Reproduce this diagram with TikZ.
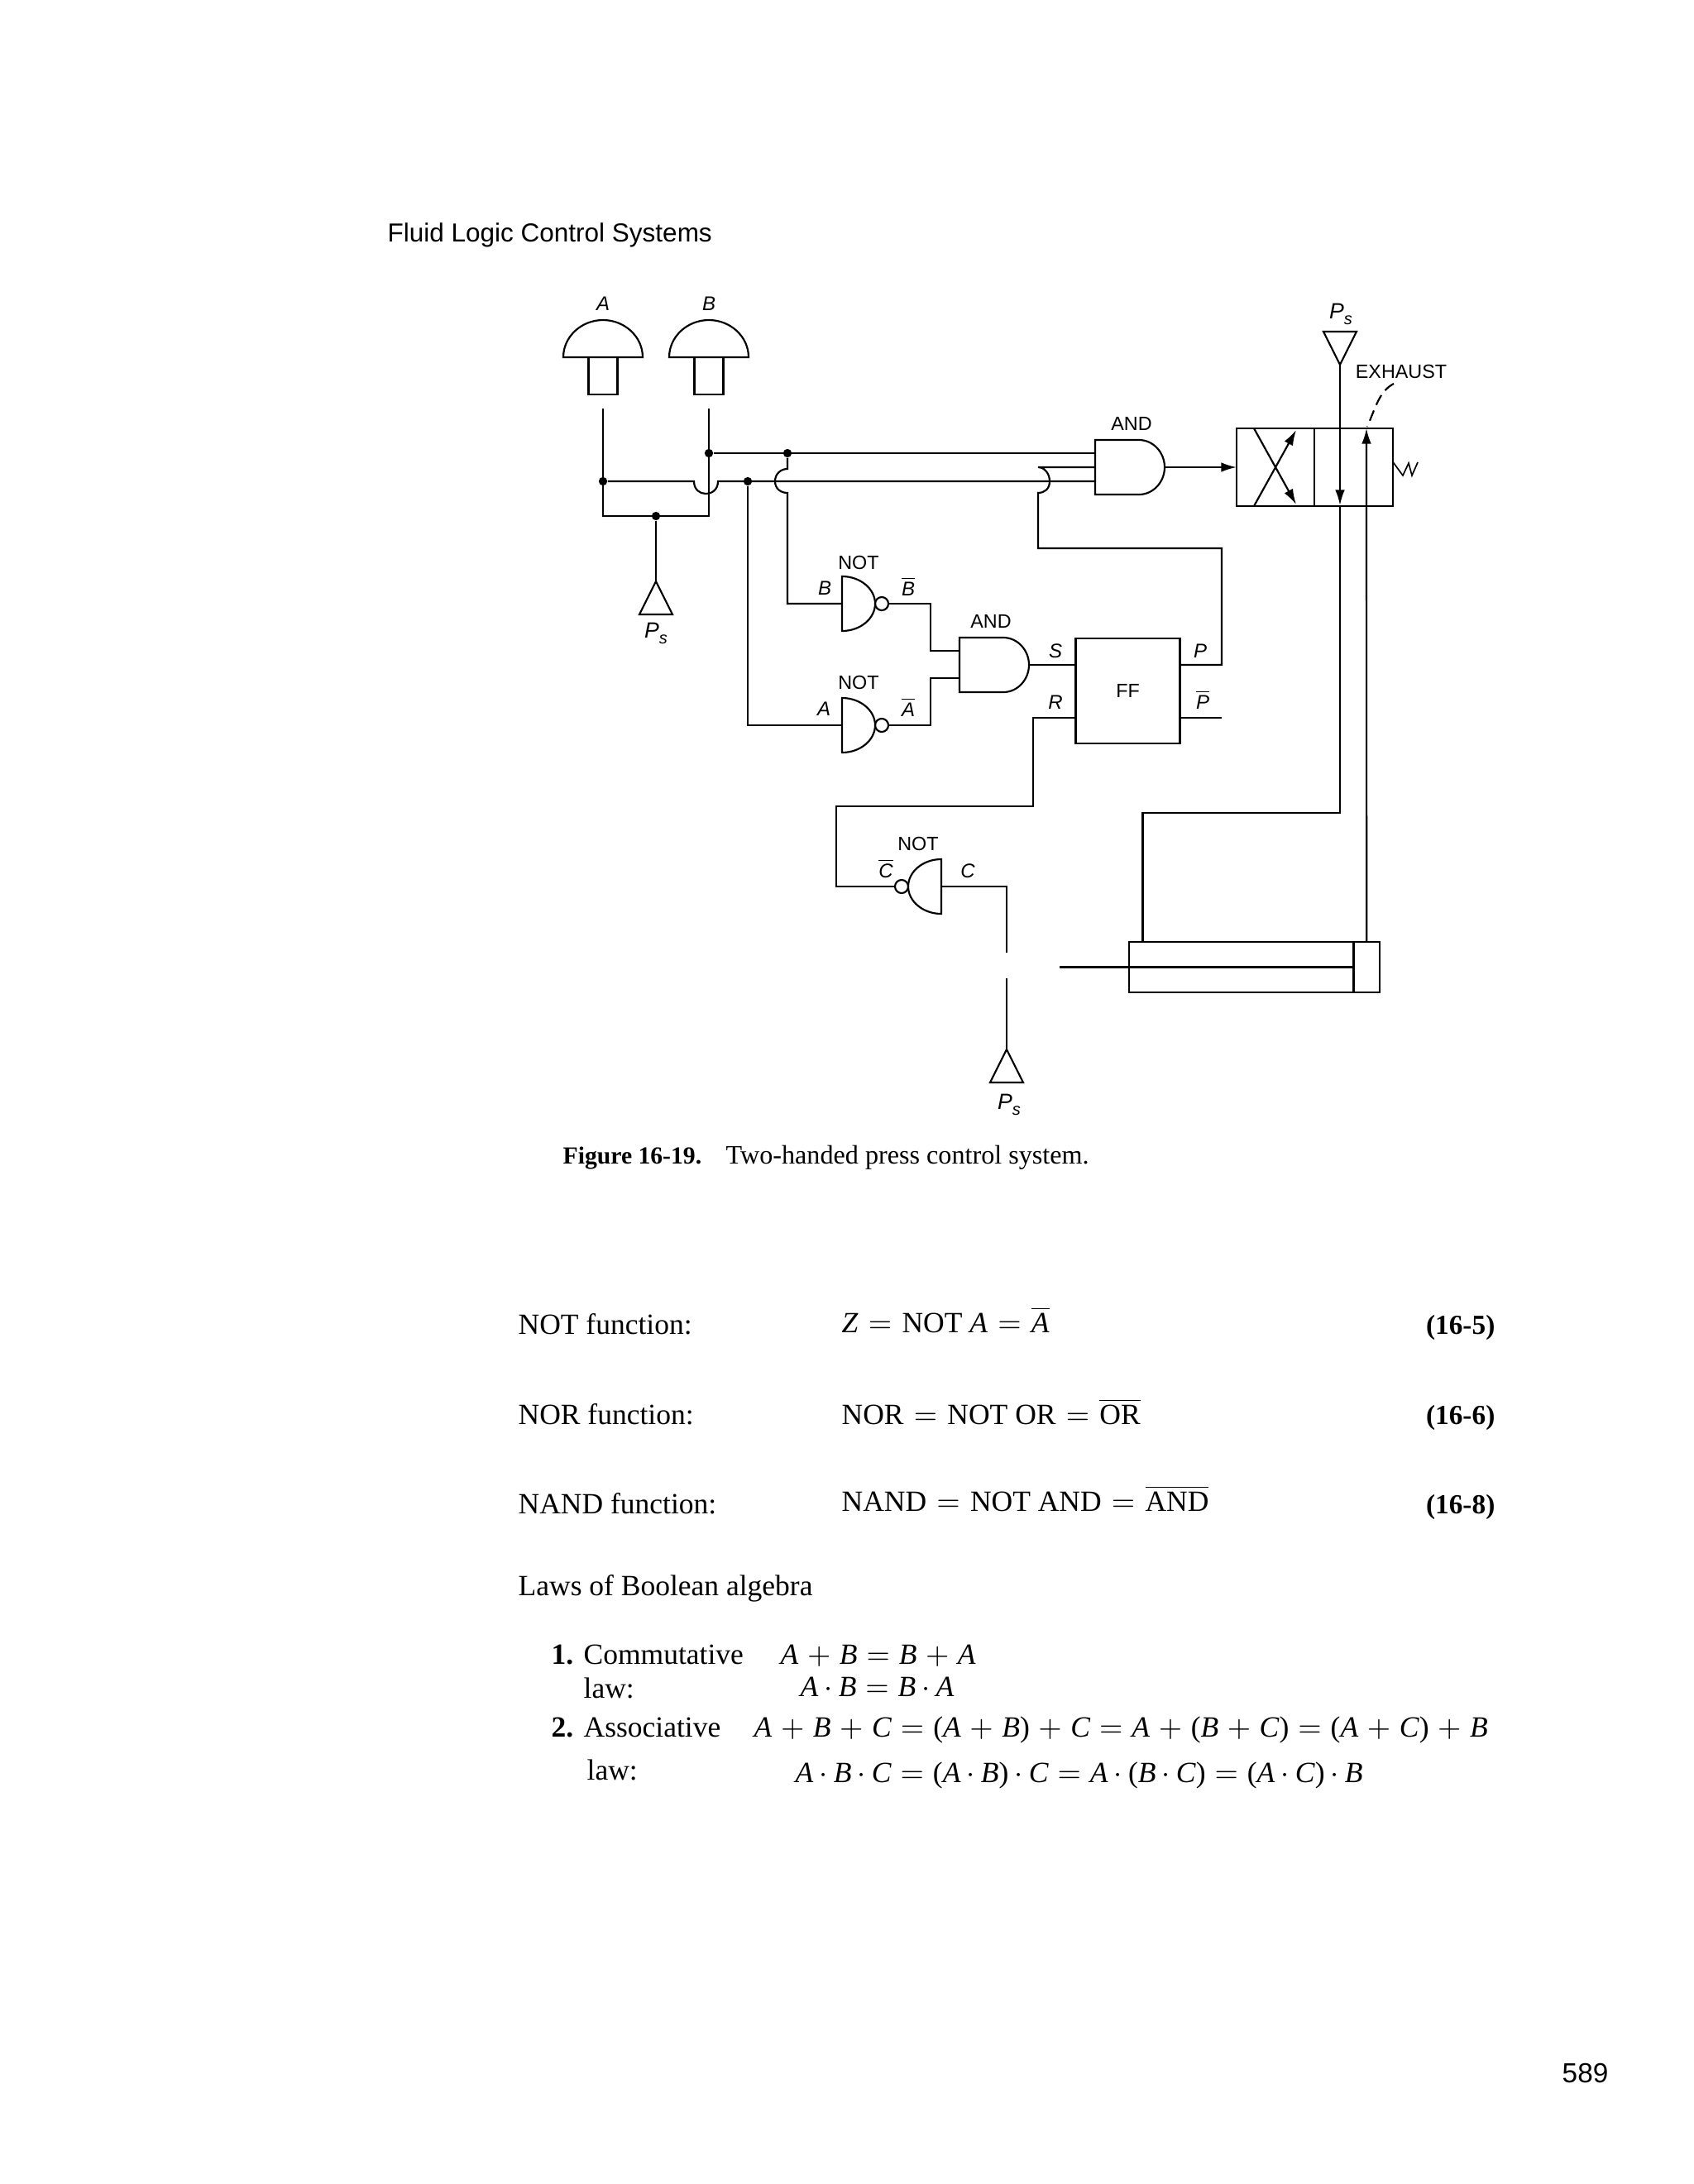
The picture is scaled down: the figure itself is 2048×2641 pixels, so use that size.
\documentclass[tikz,border=0pt]{standalone}
\usepackage{fontspec}
\setmainfont{Liberation Serif}
\setsansfont{Liberation Sans}
\usetikzlibrary{arrows.meta, positioning}

\newcommand{\barred}[1]{$\overline{\mbox{#1}}$}
\newcommand{\ovr}[1]{$\overline{\rule{0pt}{7.2pt}\mbox{#1}}$}
\newcommand{\pssub}{P\raisebox{-2.2pt}{\fontsize{6}{7}\selectfont s}}
\newcommand{\eqs}{\kern0.6pt$=$\kern0.6pt}
\newcommand{\eqw}{\kern1pt$=$\kern1pt}
\newcommand{\pls}{\kern0.5pt$+$\kern0.5pt}
\newcommand{\dt}{$\mkern3.5mu\cdot\mkern3.5mu$}

\tikzset{
    wire/.style={line width=0.65pt},
    dot/.style={circle, fill=black, inner sep=0pt, minimum size=3.1pt},
    lbl/.style={font=\sffamily\fontsize{7}{8}\selectfont, inner sep=0pt},
    sig/.style={font=\sffamily\itshape\fontsize{7.2}{8}\selectfont, inner sep=0pt},
    psup/.style={font=\sffamily\itshape\fontsize{8}{9}\selectfont, inner sep=0pt},
    txt/.style={font=\fontsize{10.65}{12}\selectfont, inner sep=0pt, anchor=base west},
    eqnum/.style={font=\bfseries\fontsize{10}{12}\selectfont, inner sep=0pt, anchor=base east},
    box/.style={draw, wire, outer sep=0pt, inner sep=0pt},
    andgate/.pic={
        \draw[wire] (0,-33) -- (53,-33) .. controls (70,-33) and (84,-18) .. (84,0)
            .. controls (84,18) and (70,33) .. (53,33) -- (0,33) -- cycle;
        \coordinate (-out) at (84,0);
    },
    notgate/.pic={
        \draw[wire] (0,-33) .. controls (22,-33) and (40,-18) .. (40,0)
            .. controls (40,18) and (22,33) .. (0,33) -- cycle;
        \draw[wire] (48,0) circle [radius=8];
        \coordinate (-in) at (0,0);
        \coordinate (-out) at (56,0);
    },
    pushbtn/.pic={
        \draw[wire] (-48,0) .. controls (-48,-25) and (-26,-45) .. (0,-45)
            .. controls (26,-45) and (48,-25) .. (48,0) -- cycle;
        \draw[wire] (-17.5,0) rectangle (17.5,45);
        \coordinate (-port) at (0,62);
    },
    supply/.pic={
        \draw[wire] (0,0) -- (-20,40) -- (20,40) -- cycle;
        \coordinate (-tip) at (0,0);
    },
}

\begin{document}
\begin{tikzpicture}[x=0.3pt, y=-0.3pt, >={Latex[length=5.6pt,width=3.5pt]}]

\useasboundingbox (0,0) rectangle (2048,2641);

\node[font=\sffamily\fontsize{9.45}{11}\selectfont, inner sep=0pt, anchor=base west] (header) at (468,292) {Fluid Logic Control Systems};

% push buttons and supplies
\pic (btnA) at (729,432) {pushbtn};
\pic (btnB) at (857,432) {pushbtn};
\node[sig] (lblA) at (729,367) {A};
\node[sig] (lblB) at (857,367) {B};

\node[dot] (joinA) at (729,582) {};
\node[dot] (joinB) at (857,548) {};
\coordinate (cornerA) at (729,624);
\coordinate (cornerB) at (857,624);
\node[dot] (joinPs) at (793,624) {};
\pic (ps1) at (793,703) {supply};
\node[psup] (lblPs1) at (793,766) {\pssub};

\node[dot] (tapB) at (952,548) {};
\node[dot] (tapA) at (904,582) {};

% gates
\pic (and1) at (1324,565) {andgate};
\pic (and2) at (1160,804) {andgate};
\pic (notB) at (1018,730) {notgate};
\pic (notA) at (1018,877) {notgate};
\pic[xscale=-1] (notC) at (1138,1072) {notgate};

\node[lbl] (lblAnd1) at (1368,512) {AND};
\node[lbl] (lblAnd2) at (1198,751) {AND};
\node[lbl] (lblNotB) at (1038,680) {NOT};
\node[lbl] (lblNotA) at (1038,825) {NOT};
\node[lbl] (lblNotC) at (1110,1020) {NOT};
\node[sig] (sigB) at (997,711) {B};
\node[sig] (sigBbar) at (1098,709) {\barred{B}};
\node[sig] (sigA) at (996,857) {A};
\node[sig] (sigAbar) at (1098,855) {\barred{A}};
\node[sig] (sigCbar) at (1071,1050) {\barred{C}};
\node[sig] (sigC) at (1170,1053) {C};

% flip flop
\node[box, minimum width=37.8pt, minimum height=38.1pt, font=\sffamily\fontsize{7}{8}\selectfont] (ff) at (1363.5,835.5) {FF};
\node[sig] (sigS) at (1276,787) {S};
\node[sig] (sigR) at (1276,849) {R};
\node[sig] (sigP) at (1451,787) {P};
\node[sig] (sigPbar) at (1454,846) {\barred{P}};

% valve
\node[box, minimum width=28.2pt, minimum height=28.2pt] (vleft) at (1542,565) {};
\node[box, minimum width=28.5pt, minimum height=28.2pt, right=0pt of vleft] (vright) {};
\pic[yscale=-1] (ps2) at (1620,441) {supply};
\node[psup] (lblPs2) at (1621,380) {\pssub};
\node[lbl] (exhaust) at (1694,449) {EXHAUST};

% cylinder
\node[box, minimum width=81.45pt, minimum height=18.3pt] (cylbody) at (1500.7,1169.5) {};
\node[box, minimum width=9.45pt, minimum height=18.3pt, right=0pt of cylbody] (cylend) {};
\coordinate (rodend) at (1281,1169.5);

\pic (ps3) at (1217,1269) {supply};
\node[psup] (lblPs3) at (1220,1336) {\pssub};
\coordinate (stemC) at (1217,1152);
\coordinate (stemPs) at (1217,1183);

% connectors
\draw[wire] (btnA-port) -- (cornerA) -- (cornerB) -- (btnB-port);
\draw[wire] (joinPs) -- (ps1-tip);
\draw[wire] (joinB) -- (1324,548);
\draw[wire] (joinA) -- (839,582) .. controls (839,592) and (846,597) .. (853,597)
    .. controls (861,597) and (868,592) .. (868,582) -- (1324,582);

\draw[wire] (tapB) -- (952,567) .. controls (944,567) and (937,573) .. (937,582)
    .. controls (937,591) and (944,596) .. (952,596) |- (notB-in);
\draw[wire] (tapA) |- (notA-in);

\draw[wire] (notB-out) -- (1125,730) |- (1160,787);
\draw[wire] (notA-out) -- (1125,877) |- (1160,820);
\draw[wire] (and2-out) -- (and2-out -| ff.west);
\draw[wire] (ff.east |- and2-out) -| (1477,663) -- (1255,663) -- (1255,596)
    .. controls (1263,596) and (1269,591) .. (1269,582)
    .. controls (1269,573) and (1263,565) .. (1255,565) -- (1324,565);
\draw[wire] (ff.east |- 0,868) -- (1477,868);
\draw[wire] (ff.west |- 0,868) -- (1249,868) |- (1011,975) |- (notC-out);
\draw[wire] (notC-in) -| (stemC);
\draw[wire] (stemPs) -- (ps3-tip);

\draw[wire, ->] (and1-out) -- (vleft.west);
\draw[wire, ->] (1516,612) -- (1567,520);
\draw[wire, ->] (1516,518) -- (1567,610);
\draw[wire, ->] (ps2-tip) -- (1620,611);
\draw[wire] (1620,611) -- (1620,983) -| (cylbody.north -| 1381.5,0);
\draw[wire, ->] (cylend.north) -- (1652,518);
\draw[line width=0.5pt] (vright.east) ++(0,-5) -- ++(1,0) -- ++(11,15) -- ++(7,-15) -- ++(4,15) -- ++(7,-16);
\draw[wire, dash pattern=on 4pt off 2.2pt] (exhaust.south) ++(-9,6) .. controls (1668,473) and (1664,490) .. (1653,516);
\draw[wire] (rodend) -- (cylend.west);

% equations
\node[font=\bfseries\fontsize{8.9}{11}\selectfont, inner sep=0pt, anchor=base west] (figno) at (680,1407) {Figure 16-19.};
\node[font=\fontsize{9.65}{11}\selectfont, inner sep=0pt, anchor=base west] (figcap) at (877,1407) {Two-handed press control system.};

\node[txt] (notfn) at (626,1613) {NOT function:};
\node[txt] (noteq) at (1017,1611) {\textit{Z} \eqw{} NOT \textit{A} \eqw{} \ovr{\textit{A}}};
\node[eqnum] (eq5) at (1808,1613) {(16-5)};
\node[txt] (norfn) at (626,1722) {NOR function:};
\node[txt] (noreq) at (1017,1722) {NOR \eqw{} NOT OR \eqw{} \ovr{OR}};
\node[eqnum] (eq6) at (1808,1722) {(16-6)};
\node[txt] (nandfn) at (626,1830) {NAND function:};
\node[txt] (nandeq) at (1017,1827) {NAND \eqw{} NOT AND \eqw{} \ovr{AND}};
\node[eqnum] (eq8) at (1808,1830) {(16-8)};

\node[txt] (laws) at (626,1929) {Laws of Boolean algebra};
\node[txt] (law1) at (666,2012) {\textbf{1.}};
\node[txt] (comm) at (705,2012) {Commutative};
\node[txt] (commsum) at (943,2012) {\textit{A} \pls{} \textit{B} \eqs{} \textit{B} \pls{} \textit{A}};
\node[txt] (law1b) at (705,2053) {law:};
\node[txt] (commdot) at (967,2051) {\textit{A}\dt\textit{B} \eqs{} \textit{B}\dt\textit{A}};
\node[txt] (law2) at (666,2100) {\textbf{2.}};
\node[txt] (assoc) at (705,2100) {Associative};
\node[txt] (assocsum) at (911,2100) {\textit{A} \pls{} \textit{B} \pls{} \textit{C} \eqs{} (\textit{A} \pls{} \textit{B}) \pls{} \textit{C} \eqs{} \textit{A} \pls{} (\textit{B} \pls{} \textit{C}) \eqs{} (\textit{A} \pls{} \textit{C}) \pls{} \textit{B}};
\node[txt] (law2b) at (709,2152) {law:};
\node[txt] (assocdot) at (961,2155) {\textit{A}\dt\textit{B}\dt\textit{C} \eqs{} (\textit{A}\dt\textit{B})\dt\textit{C} \eqs{} \textit{A}\dt(\textit{B}\dt\textit{C}) \eqs{} (\textit{A}\dt\textit{C})\dt\textit{B}};

\node[font=\sffamily\fontsize{10}{12}\selectfont, inner sep=0pt, anchor=base east] (pageno) at (1945,2518) {589};

\end{tikzpicture}
\end{document}
